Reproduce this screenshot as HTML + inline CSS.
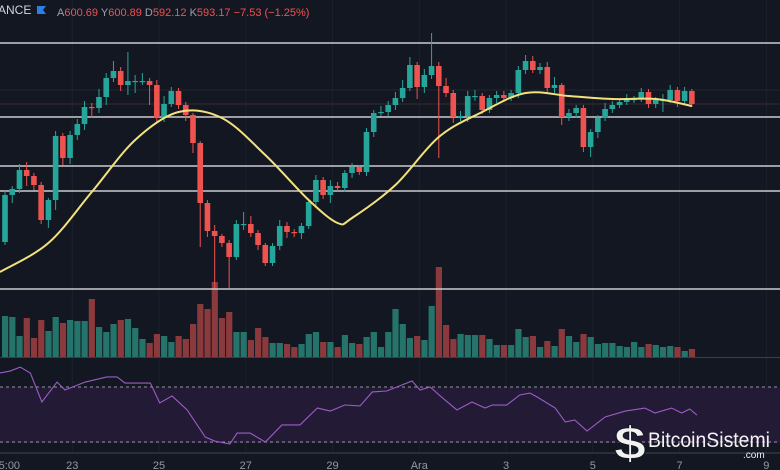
<!DOCTYPE html>
<html><head><meta charset="utf-8"><style>
html,body{margin:0;padding:0;background:#131722;}
svg{display:block;font-family:"Liberation Sans",sans-serif;}
</style></head><body>
<svg id="chart" width="780" height="470" viewBox="0 0 780 470" xmlns="http://www.w3.org/2000/svg">
<rect x="0" y="0" width="780" height="470" fill="#131722"/>
<g id="grid"></g>
<rect x="0" y="387" width="780" height="56" fill="#231a36"/>
<line x1="0" y1="387" x2="780" y2="387" stroke="#9a93a8" stroke-width="1" stroke-dasharray="3,3"/>
<line x1="0" y1="442" x2="780" y2="442" stroke="#9a93a8" stroke-width="1" stroke-dasharray="3,3"/>
<line x1="0" y1="453" x2="780" y2="453" stroke="#434651" stroke-width="1"/>
<line x1="0" y1="357.5" x2="780" y2="357.5" stroke="#3a3e4a" stroke-width="1"/>
<line x1="0" y1="104" x2="780" y2="104" stroke="#3a2a30" stroke-width="1"/>
<line x1="0" y1="90" x2="780" y2="90" stroke="#22262f" stroke-width="1"/>
<g id="vol"></g>
<g id="levels"></g>
<g id="candles"></g>
<path id="ma" fill="none" stroke="#f3e27c" stroke-width="2"/>
<path id="rsi" fill="none" stroke="#9c5cc6" stroke-width="1.1"/>
<g id="xlabels"></g>
<g>
<text x="-2" y="14" fill="#d1d4dc" font-size="12">ANCE</text>
<path d="M37 6 h9 l-3 4 l3 4 h-9 z" fill="#2f7ee6"/>
<text x="57" y="16" font-size="11" fill="#ef5350"><tspan fill="#9ca0ab">A</tspan>600.69 <tspan fill="#9ca0ab">Y</tspan>600.89 <tspan fill="#9ca0ab">D</tspan>592.12 <tspan fill="#9ca0ab">K</tspan>593.17 −7.53 (−1.25%)</text>
</g>
<g>
<text x="614" y="459" font-size="46" font-weight="bold" fill="#f2f2f2" stroke="#131722" stroke-width="1" textLength="32" lengthAdjust="spacingAndGlyphs">$</text>
<text x="648" y="447" font-size="21" fill="#f2f2f2" textLength="122" lengthAdjust="spacingAndGlyphs">BitcoinSistemi</text>
<text x="743" y="458" font-size="10" fill="#f2f2f2">.com</text>
</g>
</svg>
<script>
const closes = [505,511,530,524,515,480,500,564,542,565,
576,593,592,603,622,629,615,619,619,619,
615,582,596,609,595,585,557,
497,469,464,457,443,476,476,467,455,437,
454,474,468,467,474,498,520,505,514,512,
527,533,528,568,587,588,595,
602,612,635,613,625,634,614,607,583,584,
604,604,590,602,605,602,607,630,639,630,
633,612,615,583,587,592,553,568,582,591,
595,598,601,601,608,596,600,600,610,599,609,596];
const firstOpen = 458;
const wickHi = [4,3,6,8,3,3,2,5,3,4,
5,6,4,8,5,10,4,29,6,8,
3,5,8,4,3,3,2,
2,3,6,2,3,4,12,8,3,2,
3,6,4,3,3,2,5,3,6,4,
3,4,2,4,3,6,4,
6,8,8,3,6,33,4,8,3,5,
5,6,3,3,4,4,3,4,6,5,
4,5,8,2,4,3,3,3,3,6,
4,3,5,3,4,3,3,6,5,3,4,2];
const wickLo = [3,8,4,10,5,4,8,10,7,6,
5,6,10,5,8,4,6,10,12,4,
20,4,4,3,4,6,10,
44,6,52,4,31,3,6,4,5,3,
3,4,6,4,6,3,4,4,8,3,
4,5,3,4,5,3,4,
5,4,3,12,6,4,72,4,6,4,
6,5,4,3,5,4,3,5,4,3,
4,4,5,8,4,5,5,10,6,3,
4,3,3,4,3,4,4,12,3,6,3,3];
const volumes = [41,40,21,39,19,37,26,40,34,37,36,36,58,30,25,33,37,38,29,18,
14,23,21,15,21,18,33,53,48,75,39,45,25,25,17,29,20,14,14,13,
10,13,23,25,15,15,10,22,14,13,20,25,10,25,48,33,19,21,17,51,
90,32,18,23,22,22,22,18,12,12,12,28,20,21,10,16,11,28,21,15,
23,20,13,14,14,11,10,15,10,13,12,10,11,10,6,8];
const maIdx = [-0.7,6,12,18,24,30,36,42,46,48,54,60,66,72,78,84,90,95];
const maVals = [428,457,508,560,588,582,545,500,477,482,515,563,588,607,604,601,601,594];
const rsiIdx = [-0.7,0.7,2.1,3.5,5.1,7.2,8.3,11.1,14.1,15.5,16.6,20.1,21.4,23.1,25.2,27.7,29.0,31.1,32.1,33.9,36.0,38.3,40.8,43.2,45.0,47.0,49.1,50.8,52.8,56.3,57.4,58.8,60.2,62.5,64.6,66.4,67.4,69.4,71.2,72.6,73.6,76.1,77.5,78.8,80.5,83.0,85.8,88.5,89.9,92.2,93.6,94.7,95.7];
const rsiVals = [80.2,81.6,84.5,80.2,59.1,73.6,67.8,73.6,77.3,77.3,72.9,72.9,58.4,63.5,53.3,33.6,30.7,28.5,36.5,36.5,30,42.4,42.4,54.7,52.5,56.9,56.2,66.4,67.1,74.4,67.8,70,63.5,53.3,59.1,54.7,56.9,56.9,64.2,65.6,62.7,54.7,44.5,46,38,48.2,52.5,54.7,51.1,54.7,51.1,54,49.6];
const levelPrices = [657,583,534,509,411];
const xLabels = ["5:00","23","25","27","29","Ara","3","5","7","9"];
const xLabelIdx = [0.6,9.3,21.3,33.3,45.3,57.3,69.3,81.3,93.3,105.3];

const NS="http://www.w3.org/2000/svg";
const xOf = i => 5 + i*7.23;
const yP = p => 700 - p;
const yVol = v => 357 - v;
const yRsi = v => 387 + (70 - v)*1.375;
function mk(tag, attrs, parent){const e=document.createElementNS(NS,tag);for(const k in attrs)e.setAttribute(k,attrs[k]);parent.appendChild(e);return e;}
const UP="#26a69a", DN="#ef5350", VUP="#25746b", VDN="#8a3a3c";

const grid=document.getElementById('grid');
xLabelIdx.forEach((t,k)=>{
  if(k===0) return;
  const l=mk('line',{x1:xOf(t),x2:xOf(t),y1:0,y2:453,stroke:"#1c202b","stroke-width":1},grid);
  
  
});

const lv=document.getElementById('levels');
levelPrices.forEach(p=>{
  const l=mk('line',{x1:0,x2:780,y1:yP(p),y2:yP(p),stroke:"#c9cbd0","stroke-width":1.4},lv);
  
  
});

const cg=document.getElementById('candles'), vg=document.getElementById('vol');
closes.forEach((c,i)=>{
  const o = i===0 ? firstOpen : closes[i-1];
  const up = c>=o;
  const top=yP(Math.max(o,c)), bot=yP(Math.min(o,c));
  const x=xOf(i);
  const w=mk('line',{x1:x,x2:x,y1:top-wickHi[i],y2:bot+wickLo[i],stroke:up?UP:DN,"stroke-width":1},cg);
  
  
  const b=mk('rect',{x:x-2.8,y:top,width:5.6,height:Math.max(1.2,bot-top),fill:up?UP:DN},cg);
  
  
  const v=mk('rect',{x:x-3,y:yVol(volumes[i]),width:6.2,height:volumes[i],fill:up?VUP:VDN},vg);
  
  
});

function smooth(pts){
  let d=`M${pts[0][0]},${pts[0][1]}`;
  for(let i=0;i<pts.length-1;i++){
    const p0=pts[Math.max(0,i-1)],p1=pts[i],p2=pts[i+1],p3=pts[Math.min(pts.length-1,i+2)];
    const c1=[p1[0]+(p2[0]-p0[0])/6,p1[1]+(p2[1]-p0[1])/6];
    const c2=[p2[0]-(p3[0]-p1[0])/6,p2[1]-(p3[1]-p1[1])/6];
    d+=` C${c1[0]},${c1[1]} ${c2[0]},${c2[1]} ${p2[0]},${p2[1]}`;
  }
  return d;
}
document.getElementById('ma').setAttribute('d',smooth(maIdx.map((t,k)=>[xOf(t),yP(maVals[k])])));
document.getElementById('rsi').setAttribute('d','M'+rsiIdx.map((t,k)=>xOf(t)+','+yRsi(rsiVals[k])).join(' L'));

const xl=document.getElementById('xlabels');
xLabels.forEach((s,k)=>{
  const t=mk('text',{x:xOf(xLabelIdx[k]),y:469,"text-anchor":"middle","font-size":"11",fill:"#9598a1"},xl);
  t.textContent=s;
  
  
});
</script>
</body></html>
